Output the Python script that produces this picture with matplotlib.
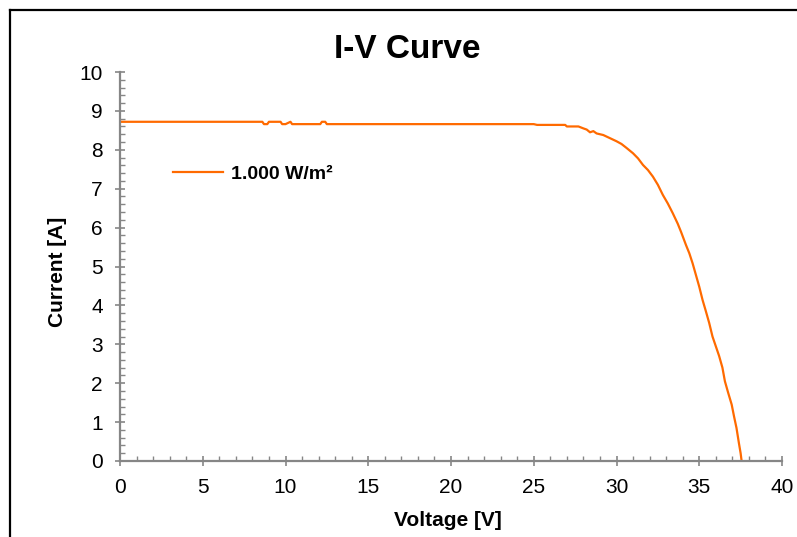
import matplotlib
matplotlib.use("Agg")
import matplotlib.pyplot as plt
from matplotlib.lines import Line2D
from matplotlib.ticker import MultipleLocator

plt.rcParams['font.family'] = ['Liberation Sans', 'DejaVu Sans']

# Data
voltage = [0.0, 8.6, 8.7, 8.9, 9.0, 9.7, 9.8, 10.0, 10.3, 10.4, 10.6,
           12.1, 12.2, 12.4, 12.5, 25.0, 25.2, 26.9, 27.0, 27.7, 28.0,
           28.2, 28.4, 28.6, 28.8, 29.2, 29.6, 30.0, 30.3, 30.6, 31.0,
           31.3, 31.6, 31.9, 32.2, 32.5, 32.8, 33.1, 33.4, 33.7, 33.9,
           34.2, 34.4, 34.6, 34.8, 35.0, 35.2, 35.4, 35.6, 35.8, 36.0,
           36.2, 36.4, 36.55, 36.75, 36.96, 37.1, 37.25, 37.4, 37.5, 37.56]
current = [8.72, 8.72, 8.66, 8.66, 8.72, 8.72, 8.66, 8.66, 8.72, 8.66, 8.66,
           8.66, 8.72, 8.72, 8.66, 8.66, 8.64, 8.64, 8.60, 8.60, 8.55,
           8.52, 8.45, 8.48, 8.42, 8.38, 8.30, 8.22, 8.15, 8.05, 7.91,
           7.78, 7.61, 7.48, 7.31, 7.10, 6.84, 6.62, 6.37, 6.10, 5.89,
           5.55, 5.34, 5.08, 4.78, 4.48, 4.14, 3.85, 3.55, 3.20, 2.95,
           2.70, 2.40, 2.05, 1.75, 1.45, 1.15, 0.85, 0.45, 0.20, 0.0]
series_label = "1.000 W/m²"
title = "I-V Curve"
x_label = "Voltage [V]"
y_label = "Current [A]"
x_ticks = [0, 5, 10, 15, 20, 25, 30, 35, 40]
y_ticks = [0, 1, 2, 3, 4, 5, 6, 7, 8, 9, 10]

W, H = 797, 537
fig = plt.figure(figsize=(W / 100, H / 100), dpi=100)
ax = fig.add_axes([120 / W, 1 - 461 / H, (782 - 120) / W, (461 - 72) / H])

orange = '#FF6A00'
ax.plot(voltage, current, color=orange, lw=1.6, label=series_label)

ax.set_xlim(0, 40)
ax.set_ylim(0, 10)
ax.set_xticks(x_ticks)
ax.set_yticks(y_ticks)
ax.xaxis.set_minor_locator(MultipleLocator(1))
ax.yaxis.set_minor_locator(MultipleLocator(0.2))

gray = '#868686'
for s in ['top', 'right']:
    ax.spines[s].set_visible(False)
for s in ['left', 'bottom']:
    ax.spines[s].set_color(gray)
    ax.spines[s].set_linewidth(1.6)
ax.tick_params(which='major', direction='inout', length=7, width=1.2,
               color=gray, labelsize=15, labelcolor='black')
ax.tick_params(axis='x', which='major', pad=9)
ax.tick_params(axis='y', which='major', pad=9)
ax.tick_params(which='minor', direction='in', length=3.5, width=1.0, color=gray)

ax.set_xlabel(x_label, fontsize=15, fontweight='bold', va='center')
ax.set_ylabel(y_label, fontsize=15, fontweight='bold', va='center')
ax.xaxis.set_label_coords((448 - 120) / 662, -(521 - 461) / 389)
ax.yaxis.set_label_coords((58 - 120) / 662, (461 - 271.5) / 389)

fig.text(407 / W, 1 - 49 / H, title, fontsize=24, fontweight='bold',
         ha='center', va='center')

leg = ax.legend(loc='upper left', bbox_to_anchor=(0.053, 0.805), frameon=False,
                prop={'weight': 'bold', 'size': 14}, handlelength=2.6,
                handletextpad=0.4)

# Outer frame lines (left and top)
fig.add_artist(Line2D([10 / W, 10 / W], [0, 1 - 10 / H], color='black', lw=1.6,
                      transform=fig.transFigure))
fig.add_artist(Line2D([10 / W, 1], [1 - 10 / H, 1 - 10 / H], color='black', lw=1.6,
                      transform=fig.transFigure))

fig.savefig('out.png', dpi=100)
